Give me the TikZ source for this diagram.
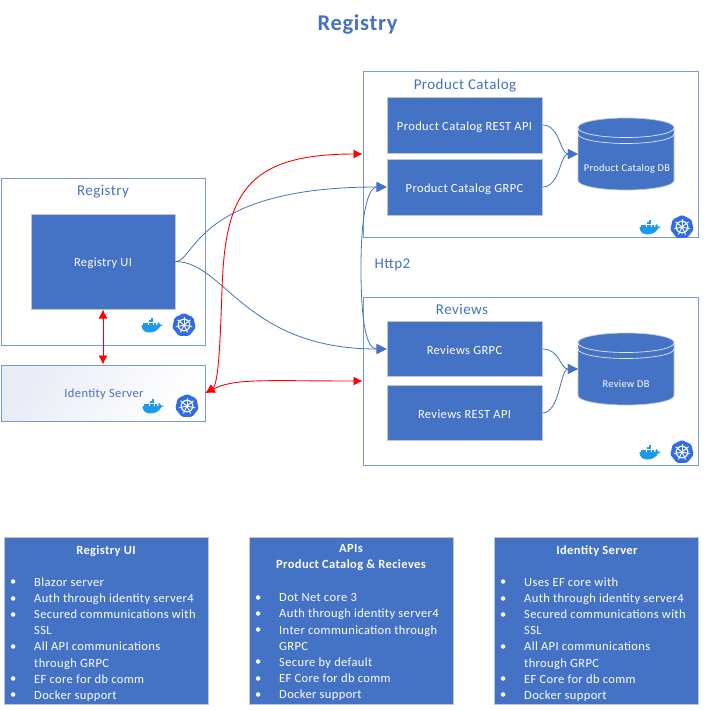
\documentclass[tikz,border=0pt]{standalone}
\usepackage{fontspec}
\setmainfont{Carlito}[LetterSpace=3]
\usetikzlibrary{arrows.meta,calc}
\definecolor{msblue}{HTML}{4472C4}
\definecolor{frameblue}{HTML}{7C98CF}
\definecolor{paleedge}{HTML}{B9C6DE}
\definecolor{dockerblue}{HTML}{1D9BEB}
\definecolor{kubeblue}{HTML}{326CE5}
\definecolor{mistgrey}{HTML}{E4E7F3}
\newcommand{\smalltext}{\fontsize{12.5}{14}\selectfont}
\newcommand{\frametext}{\fontsize{15}{18}\selectfont}
\newcommand{\bl}[1]{\makebox[24pt][l]{\raisebox{0.5pt}{\textbullet}}#1}
\newcommand{\cont}[1]{\hspace*{24pt}#1}
\tikzset{
  frame/.style={draw=frameblue,line width=1pt,fill=white,inner sep=0pt},
  bluebox/.style={draw=paleedge,line width=1pt,fill=msblue,text=white,inner sep=0pt,font=\smalltext,text height=10pt,text depth=0pt},
  frametitle/.style={text=msblue,font=\frametext,inner sep=0pt},
  infobox/.style={draw=paleedge,line width=1pt,fill=msblue,inner sep=0pt},
  infohead/.style={text=white,font=\bfseries\smalltext,align=center,inner sep=0pt},
  infobody/.style={text=white,align=left,inner sep=0pt,font=\fontsize{12.5}{16.15}\selectfont},
  dbtext/.style={text=white,font=\fontsize{10.400}{13}\selectfont,inner sep=0pt},
  bluelink/.style={draw=msblue,line width=0.8pt,-{Triangle[length=10pt,width=10pt]}},
  bluelinkboth/.style={draw=msblue,line width=0.8pt,{Triangle[length=10pt,width=10pt]}-{Triangle[length=10pt,width=10pt]}},
  redlink/.style={draw=red,line width=0.9pt,{Latex[length=9pt,width=9pt]}-{Latex[length=9pt,width=9pt]}},
  dbslot/.style={draw=none,inner sep=0pt,minimum width=96pt,minimum height=72pt},
  kube/.pic={
    \fill[kubeblue,rounded corners=1.5pt] (270:12) -- (321.43:12) -- (372.86:12) -- (424.29:12) -- (475.71:12) -- (527.14:12) -- (578.57:12) -- cycle;
    \draw[white,line width=1.2pt] (0,0) circle (5.8);
    \fill[white] (0,0) circle (1.5);
    \foreach \a in {270,321.43,372.86,424.29,475.71,527.14,578.57}{
      \draw[white,line width=0.9pt] (0,0) -- (\a:8.3);
    }
  },
  whale/.pic={
    \fill[dockerblue] (-10.5,-0.8) -- (5.2,-0.8) .. controls (5,-3) and (6.2,-3.8) .. (6.8,-3.8)
      .. controls (7.6,-3) and (7.8,-2) .. (8,-1.6) .. controls (9,-2) and (10.2,-1.8) .. (10.8,-1)
      .. controls (10,0.2) and (9,0.4) .. (8.2,0.4) .. controls (6,4.5) and (2,6.5) .. (-3,6.5)
      .. controls (-8,6.5) and (-10.5,3) .. (-10.5,-0.8) -- cycle;
    \foreach \x in {-8.6,-6,-3.4,-0.8,1.8}{\fill[dockerblue] (\x,-3.2) rectangle ++(2.2,2);}
    \foreach \x in {-3.4,-0.8}{\fill[dockerblue] (\x,-5.7) rectangle ++(2.2,2);}
    \fill[dockerblue] (-0.8,-8.2) rectangle ++(2.2,2);
  },
  cyl/.pic={
    \fill[msblue,draw=paleedge,line width=0.7pt] (-48,-26.500) arc[start angle=180,end angle=360,x radius=48,y radius=9.5]
      -- (48,26.5) arc[start angle=0,end angle=180,x radius=48,y radius=9.5] -- cycle;
    \draw[white!85!msblue,line width=0.7pt] (-48,-26) arc[start angle=180,end angle=0,x radius=48,y radius=9.5];
    \draw[white!85!msblue,line width=0.7pt] (-48,-20) arc[start angle=180,end angle=0,x radius=48,y radius=9.5];
  }
}
\begin{document}
\begin{tikzpicture}[x=1pt,y=-1pt]
\useasboundingbox (0,0) rectangle (705,710);
\fill[white] (0,0) rectangle (705,710);

\node[text=msblue,font=\bfseries\fontsize{22.500}{25}\selectfont,inner sep=0pt] (title) at (357.500,24.500) {Registry};

% frames
\node[frame,minimum width=204pt,minimum height=167pt] (regframe) at (103,261.5) {};
\node[frame,minimum width=335pt,minimum height=166pt] (pcframe) at (530.5,154) {};
\node[frame,minimum width=335pt,minimum height=168pt] (revframe) at (530.5,381) {};
\node[draw=frameblue,line width=1pt,inner sep=0pt,minimum width=204pt,minimum height=56pt,
      left color=mistgrey!80!white,middle color=mistgrey!15!white,right color=white,shading angle=60] (idsrv) at (103,393) {};

\node[frametitle] (regtitle) at (103,191.500) {Registry};
\node[frametitle] (pctitle) at (465,85.500) {Product Catalog};
\node[frametitle] (revtitle) at (462,309.500) {Reviews};
\node[text=msblue,font=\smalltext,inner sep=0pt] (idtitle) at (104,394) {Identity Server};

% blue boxes
\node[bluebox,minimum width=144pt,minimum height=95pt] (regui) at (103,261.5) {Registry UI};
\node[bluebox,minimum width=155pt,minimum height=56pt] (pcrest) at (464.5,125) {Product Catalog REST API};
\node[bluebox,minimum width=155pt,minimum height=56pt] (pcgrpc) at (464.5,187) {Product Catalog GRPC};
\node[bluebox,minimum width=155pt,minimum height=55pt] (revgrpc) at (464.5,349) {Reviews GRPC};
\node[bluebox,minimum width=155pt,minimum height=55pt] (revrest) at (464.5,413) {Reviews REST API};

% databases
\pic at (626,154) {cyl};
\pic at (626,369) {cyl};
\node[dbslot] (pcdb) at (626,154) {};
\node[dbslot] (revdb) at (626,369) {};
\node[dbtext] (pcdbtext) at (627,169) {Product Catalog DB};
\node[dbtext] (revdbtext) at (626,384) {Review DB};

% icons
\pic at (152,326) {whale};
\pic at (184,325) {kube};
\pic at (153,407) {whale};
\pic at (187,406) {kube};
\pic at (650,228) {whale};
\pic at (682,227) {kube};
\pic at (650,453) {whale};
\pic at (682,452) {kube};

% label
\node[text=msblue,font=\fontsize{15}{17}\selectfont,inner sep=0pt] (http) at (392.500,265) {Http2};

% blue connectors
\draw[bluelink] (regui.east) .. controls (195,262) and (195,187) .. (pcgrpc.west);
\draw[bluelink] (regui.east) .. controls (225,262) and (245,349) .. (revgrpc.west);
\draw[bluelinkboth] (pcgrpc.west) .. controls (370,187) and (361,205) .. (361,268)
  .. controls (361,320) and (366,349) .. (revgrpc.west);
\draw[bluelink] (pcrest.east) .. controls (560,125) and (560,154) .. (pcdb.west);
\draw[bluelink] (pcgrpc.east) .. controls (560,187) and (560,154) .. (pcdb.west);
\draw[bluelink] (revgrpc.east) .. controls (560,349) and (560,369) .. (revdb.west);
\draw[bluelink] (revrest.east) .. controls (560,413) and (560,369) .. (revdb.west);

% red connectors
\draw[redlink] (regui.south) -- (idsrv.north);
\draw[redlink] (idsrv.east) .. controls (218,385) and (220,350) .. (222,290)
  .. controls (225,195) and (245,154) .. (pcframe.west);
\draw[redlink] (idsrv.east) .. controls (235,378) and (265,381) .. (revframe.west);

% info boxes
\node[infobox,minimum width=204pt,minimum height=167pt] (infoa) at (106,620.5) {};
\node[infobox,minimum width=204pt,minimum height=167pt] (infob) at (351,620.5) {};
\node[infobox,minimum width=204pt,minimum height=167pt] (infoc) at (596,620.5) {};

\node[infohead] (heada) at (106,551) {Registry UI};
\node[infohead,anchor=north] (headb) at (351,544.500) {APIs\\[2pt]Product Catalog \& Recieves};
\node[infohead] (headc) at (597,551) {Identity Server};

\node[infobody,anchor=north west] (bodya) at (10,577.500) {\bl{Blazor server}\\\bl{Auth through identity server4}\\\bl{Secured communications with}\\\cont{SSL}\\\bl{All API communications}\\\cont{through GRPC}\\\bl{EF core for db comm}\\\bl{Docker support}};
\node[infobody,anchor=north west] (bodyb) at (255,593.500) {\bl{Dot Net core 3}\\\bl{Auth through identity server4}\\\bl{Inter communication through}\\\cont{GRPC}\\\bl{Secure by default}\\\bl{EF Core for db comm}\\\bl{Docker support}};
\node[infobody,anchor=north west] (bodyc) at (500,577.500) {\bl{Uses EF core with}\\\bl{Auth through identity server4}\\\bl{Secured communications with}\\\cont{SSL}\\\bl{All API communications}\\\cont{through GRPC}\\\bl{EF Core for db comm}\\\bl{Docker support}};
\end{tikzpicture}
\end{document}
